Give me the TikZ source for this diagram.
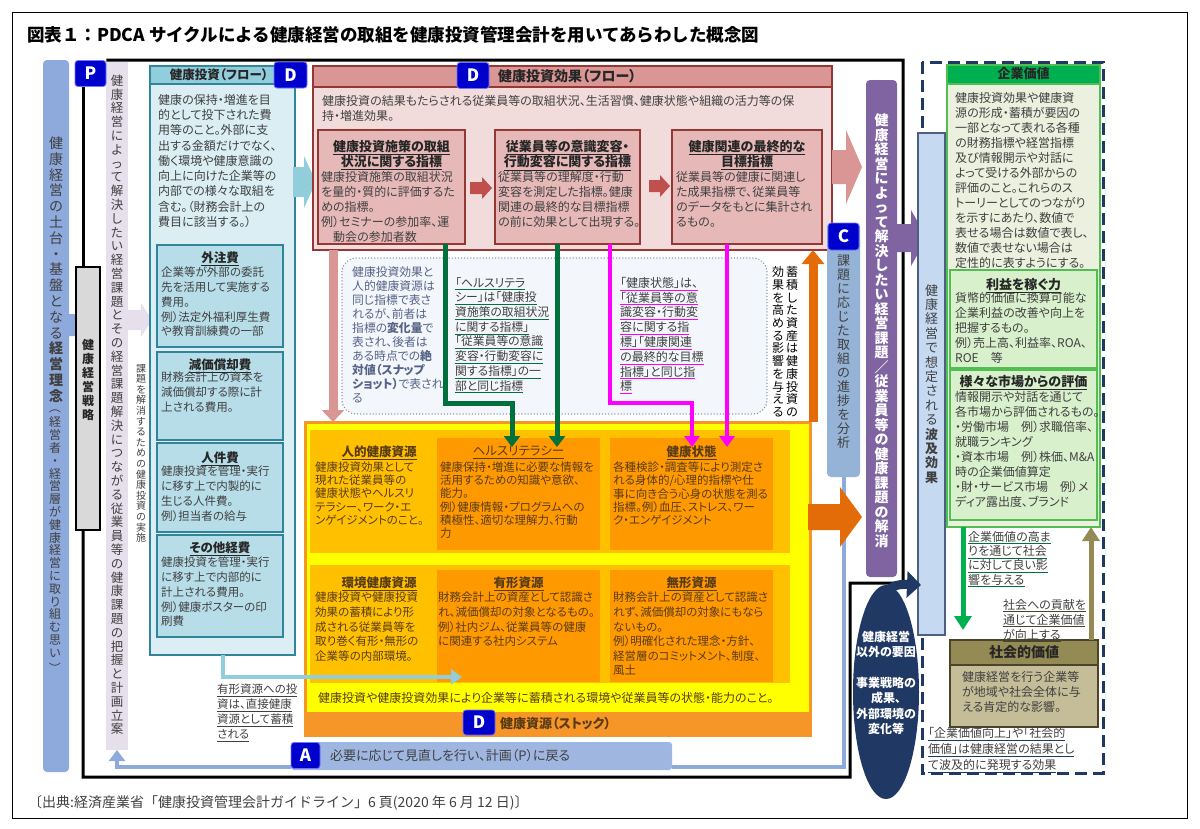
\documentclass[tikz,border=0pt]{standalone}
\usepackage{fontspec}
\setmainfont{Noto Sans CJK JP}[RawFeature={+palt}]
\newfontfamily\jpfixed{Noto Sans CJK JP}
\usepackage{graphicx}
\usepackage{tikz}
\usetikzlibrary{arrows.meta,positioning,shapes.geometric}

\definecolor{basebar}{RGB}{142,169,219}
\definecolor{lavcol}{RGB}{229,224,236}
\definecolor{badgeblue}{RGB}{0,0,204}
\definecolor{invhead}{RGB}{146,205,220}
\definecolor{invbody}{RGB}{218,238,243}
\definecolor{invsub}{RGB}{183,221,232}
\definecolor{invline}{RGB}{49,133,155}
\definecolor{effhead}{RGB}{217,150,148}
\definecolor{effbody}{RGB}{242,220,219}
\definecolor{effsub}{RGB}{230,185,184}
\definecolor{effline}{RGB}{149,55,53}
\definecolor{effarrow}{RGB}{192,80,77}
\definecolor{purplecol}{RGB}{128,100,162}
\definecolor{rippleblue}{RGB}{197,217,241}
\definecolor{navy}{RGB}{31,56,100}
\definecolor{cvhead}{RGB}{0,176,80}
\definecolor{cvbody}{RGB}{235,241,222}
\definecolor{cvsub}{RGB}{216,240,204}
\definecolor{cvline}{RGB}{80,190,80}
\definecolor{svhead}{RGB}{148,138,84}
\definecolor{svbody}{RGB}{196,189,151}
\definecolor{svline}{RGB}{74,69,42}
\definecolor{ccol}{RGB}{149,179,215}
\definecolor{stockyellow}{RGB}{255,255,0}
\definecolor{stockamber}{RGB}{255,192,0}
\definecolor{stockbox}{RGB}{255,153,0}
\definecolor{stockline}{RGB}{247,150,40}
\definecolor{orangearr}{RGB}{227,108,9}
\definecolor{ldgreen}{RGB}{0,112,60}
\definecolor{lmagenta}{RGB}{255,0,255}
\definecolor{dotfill}{RGB}{243,246,251}
\definecolor{dotline}{RGB}{120,140,175}
\definecolor{slate}{RGB}{85,100,135}
\definecolor{txtgray}{RGB}{64,64,64}
\definecolor{stocktxt}{RGB}{90,60,20}
\definecolor{cyclelb}{RGB}{142,169,219}

\newcommand\vrot[1]{\rotatebox[origin=c]{-90}{#1}}
\let\vtStop\relax
\def\vtStopm{\vtStop}
\def\vtloop#1{\def\vtmp{#1}\ifx\vtmp\vtStopm\else\hbox to 1em{\hss\vrule height .88em depth .12em width 0pt\relax#1\hss}\expandafter\vtloop\fi}
\newcommand\vchars[1]{\vtloop#1\vtStop}
\newcommand\vbx[1]{\vbox{\lineskiplimit=-100pt\relax#1}}
\newcommand\uln[1]{\underline{#1}}
\newcommand\cul[2]{{\color{#1}\underline{\textcolor{txtgray}{#2}}}}
\newcommand\boxnode[6]{\node[#2, anchor=north west, inner sep=0pt, outer sep=0pt, minimum width={(#5)-(#3)}, minimum height={(#6)-(#4)}] (#1) at (#3,#4) {};}
\newcommand\rblock[7]{\fill[#1] (#2,#4-#5) -- (#3-#7,#4-#5) -- (#3-#7,#4-#6) -- (#3,#4) -- (#3-#7,#4+#6) -- (#3-#7,#4+#5) -- (#2,#4+#5) -- cycle;}

\tikzset{
  txt/.style={anchor=north west, inner sep=0pt, align=left, text=txtgray, font=\fontsize{12}{15}\selectfont},
  ttl/.style={anchor=north, inner sep=0pt, align=center, text=black!85, font=\bfseries\fontsize{13}{15}\selectfont},
  badge/.style={fill=badgeblue, draw=blue!55, line width=0.8pt, rounded corners=3pt, text=white, font=\bfseries\fontsize{17}{17}\selectfont, minimum width=31pt, minimum height=26pt, inner sep=0pt},
  vtx/.style={anchor=north, inner sep=0pt, text=txtgray},
  frameline/.style={line width=3pt, black},
  subinv/.style={fill=invsub, draw=invline, line width=1.2pt},
  subeff/.style={fill=effsub, draw=effline, line width=1.2pt},
  subcv/.style={fill=cvsub, draw=cvline, line width=1.2pt},
  gline/.style={line width=5pt, ldgreen, -{Triangle[width=16pt,length=11pt]}},
  mline/.style={line width=4pt, lmagenta, -{Triangle[width=15pt,length=11pt]}},
  cycleline/.style={line width=4pt, cyclelb},
}

\begin{document}
\begin{tikzpicture}[x=1pt,y=-1pt]
\useasboundingbox (0,0) rectangle (1200,828);
\draw[line width=1pt] (12,12) rectangle (1187,818);
\node[anchor=west, inner sep=0pt, text=black, font=\jpfixed\bfseries\fontsize{17.5}{18}\selectfont] (title) at (27,35) {図表１：PDCA サイクルによる健康経営の取組を健康投資管理会計を用いてあらわした概念図};

% left columns
\boxnode{basebar}{fill=basebar, rounded corners=4pt}{43}{60}{69}{772}
\node[vtx] (basetxt) at (56,136) {\vbx{\fontsize{14}{15.8}\selectfont\vchars{健康経営の土台・基盤となる}\bfseries\vchars{経営理念}\mdseries\fontsize{12}{12.8}\selectfont\vchars{{\vrot{（}}経営者・経営層が健康経営に取り組む思い{\vrot{）}}}}};
\rblock{fill=basebar}{68}{96}{325}{11}{20}{12}
\boxnode{lavcol}{fill=lavcol}{106}{62}{128}{750}
\node[vtx] (lavtxt) at (117,74) {\vbx{\fontsize{12.5}{13.8}\selectfont\vchars{健康経営によって解決したい経営課題とその経営課題解決につながる従業員等の健康課題の把握と計画立案}}};
\rblock{fill=lavcol}{128}{152}{320}{10}{17}{11}
\node[vtx] (solvetxt) at (141,363) {\vbx{\fontsize{10}{10.6}\selectfont\vchars{課題を解消するための健康投資の実施}}};

\node[badge] (P) at (90.5,73.5) {P};
\boxnode{strategy}{fill=black!15, draw=black, line width=1.5pt}{76}{267}{100}{530}
\node[vtx, text=black!85] (strategytxt) at (88,339) {\vbx{\fontsize{12}{14}\selectfont\bfseries\vchars{健康経営戦略}}};
\draw[frameline] ([xshift=-7.5pt]P.south) -- ([xshift=-5pt]strategy.north);
\draw[frameline] (P.north east) -- (903,60) -- (903,583) -- (850,583) -- (850,777) -- (83,777) -- ([xshift=-5pt]strategy.south);

% health investment (flow)
\boxnode{inv}{fill=invbody, draw=invline, line width=1.2pt}{150}{66}{295}{655}
\boxnode{invhd}{fill=invhead, draw=invline, line width=1.2pt}{150}{66}{295}{84}
\node[ttl, font=\bfseries\fontsize{12.5}{15}\selectfont] (invttl) at (219,69) {健康投資（フロー）};
\node[badge, minimum width=33pt] (Dinv) at (290.5,75) {D};
\node[txt, font=\fontsize{12}{15.25}\selectfont] (invtxt) at (158,94) {健康の保持・増進を目\\的として投下された費\\用等のこと。外部に支\\出する金額だけでなく、\\働く環境や健康意識の\\向上に向けた企業等の\\内部での様々な取組を\\含む。（財務会計上の\\費目に該当する。）};
\boxnode{outsrc}{subinv}{157}{245}{283}{347}
\boxnode{deprec}{subinv}{157}{352}{283}{440}
\boxnode{labor}{subinv}{157}{443}{283}{532}
\boxnode{othercost}{subinv}{157}{535}{283}{637}
\node[ttl, font=\bfseries\fontsize{12.5}{15}\selectfont] at (220,252) {\uln{外注費}};
\node[txt, font=\fontsize{11.5}{14.7}\selectfont] at (161,267) {企業等が外部の委託\\先を活用して実施する\\費用。\\例）法定外福利厚生費\\や教育訓練費の一部};
\node[ttl, font=\bfseries\fontsize{12.5}{15}\selectfont] at (220,359) {\uln{減価償却費}};
\node[txt, font=\fontsize{11.5}{14.7}\selectfont] at (161,372) {財務会計上の資本を\\減価償却する際に計\\上される費用。};
\node[ttl, font=\bfseries\fontsize{12.5}{15}\selectfont] at (220,452) {\uln{人件費}};
\node[txt, font=\fontsize{11.5}{14.7}\selectfont] at (161,466) {健康投資を管理・実行\\に移す上で内製的に\\生じる人件費。\\例）担当者の給与};
\node[ttl, font=\bfseries\fontsize{12.5}{15}\selectfont] at (220,542) {\uln{その他経費}};
\node[txt, font=\fontsize{11.5}{14.7}\selectfont] at (161,557) {健康投資を管理・実行\\に移す上で内部的に\\計上される費用。\\例）健康ポスターの印\\刷費};
\rblock{fill=invhead}{293}{316}{182}{15}{26}{12}

% health investment effect (flow)
\boxnode{eff}{fill=effbody, draw=effline, line width=1.2pt}{313}{66}{832}{250}
\boxnode{effhd}{fill=effhead, draw=effline, line width=1.2pt}{313}{66}{832}{87}
\node[badge, minimum width=32pt] (Deff) at (473,75.5) {D};
\node[anchor=north west, inner sep=0pt, text=black!85, font=\bfseries\fontsize{14}{15}\selectfont] (effttl) at (498,69) {健康投資効果（フロー）};
\node[txt] (efftxt) at (322,95) {健康投資の結果もたらされる従業員等の取組状況、生活習慣、健康状態や組織の活力等の保\\持・増進効果。};
\boxnode{ind1}{subeff}{318}{130}{465}{244}
\boxnode{ind2}{subeff}{495}{130}{640}{244}
\boxnode{ind3}{subeff}{672}{130}{822}{244}
\node[ttl] at (391.5,140.5) {\uln{健康投資施策の取組}\\\uln{状況に関する指標}};
\node[txt] at (321,171) {健康投資施策の取組状況\\を量的・質的に評価するた\\めの指標。\\例）セミナーの参加率、運\\　動会の参加者数};
\node[ttl] at (567.5,140.5) {\uln{従業員等の意識変容・}\\\uln{行動変容に関する指標}};
\node[txt] at (498,171) {従業員等の理解度・行動\\変容を測定した指標。健康\\関連の最終的な目標指標\\の前に効果として出現する。};
\node[ttl] at (747,140.5) {\uln{健康関連の最終的な}\\\uln{目標指標}};
\node[txt] at (676,171) {従業員等の健康に関連し\\た成果指標で、従業員等\\のデータをもとに集計され\\るもの。};
\rblock{fill=effarrow}{470}{492}{188}{6}{11}{10}
\rblock{fill=effarrow}{649}{670}{186}{6}{11}{10}
\rblock{fill=effhead}{832}{862}{167}{17}{37}{16}

% note box between flows and stock
\boxnode{note}{fill=dotfill, draw=dotline, line width=1.4pt, line cap=round, dash pattern=on 0.1pt off 3pt, rounded corners=14pt}{342}{258}{767}{414}
\node[txt, text=slate, font=\fontsize{11.8}{14}\selectfont] (notetxt) at (352,266) {健康投資効果と\\人的健康資源は\\同じ指標で表さ\\れるが、前者は\\指標の\textbf{変化量}で\\表され、後者は\\ある時点での\textbf{絶}\\\textbf{対値（スナップ}\\\textbf{ショット）}で表され\\る};
\node[txt, font=\fontsize{11.8}{14.7}\selectfont] (hlnote) at (455,277) {\cul{ldgreen}{「ヘルスリテラ}\\\cul{ldgreen}{シー」は「健康投}\\\cul{ldgreen}{資施策の取組状況}\\\cul{ldgreen}{に関する指標」}\\\cul{ldgreen}{「従業員等の意識}\\\cul{ldgreen}{変容・行動変容に}\\\cul{ldgreen}{関する指標」の一}\\\cul{ldgreen}{部と同じ指標}};
\node[txt, font=\fontsize{12}{14.8}\selectfont] (hsnote) at (620,277) {\cul{lmagenta}{「健康状態」は、}\\\cul{lmagenta}{「従業員等の意}\\\cul{lmagenta}{識変容・行動変}\\\cul{lmagenta}{容に関する指}\\\cul{lmagenta}{標」「健康関連}\\\cul{lmagenta}{の最終的な目標}\\\cul{lmagenta}{指標」と同じ指}\\\cul{lmagenta}{標}};
\node[vtx, text=black] (accR) at (792,266) {\vbx{\fontsize{12}{12.7}\selectfont\vchars{蓄積した資産は健康投資の}}};
\node[vtx, text=black] (accL) at (778,266) {\vbx{\fontsize{12}{12.7}\selectfont\vchars{効果を高める影響を与える}}};

% health resources (stock)
\boxnode{stock}{fill=stockyellow, draw=stockline, line width=3pt}{305}{422}{810}{735}
\boxnode{stockband}{fill=stockline}{305}{712}{810}{735}
\boxnode{humanres}{fill=stockamber}{310}{430}{790}{553}
\boxnode{envres}{fill=stockamber}{310}{565}{790}{683}
\boxnode{hl}{fill=stockbox}{437}{438}{600}{550}
\boxnode{hs}{fill=stockbox}{610}{438}{773}{550}
\boxnode{tg}{fill=stockbox}{437}{570}{600}{682}
\boxnode{itg}{fill=stockbox}{610}{570}{773}{682}
\node[ttl, text=stocktxt, font=\bfseries\fontsize{12.5}{14}\selectfont] at (379,446) {\uln{人的健康資源}};
\node[txt, text=stocktxt, font=\fontsize{11.5}{13.3}\selectfont] at (315,461.5) {健康投資効果として\\現れた従業員等の\\健康状態やヘルスリ\\テラシー、ワーク・エ\\ンゲイジメントのこと。};
\node[ttl, text=stocktxt, font=\fontsize{12.5}{14}\selectfont] at (518.5,446) {\uln{ヘルスリテラシー}};
\node[txt, text=stocktxt, font=\fontsize{11.5}{13.3}\selectfont] at (440,461.5) {健康保持・増進に必要な情報を\\活用するための知識や意欲、\\能力。\\例）健康情報・プログラムへの\\積極性、適切な理解力、行動\\力};
\node[ttl, text=stocktxt, font=\bfseries\fontsize{12.5}{14}\selectfont] at (691.5,446) {\uln{健康状態}};
\node[txt, text=stocktxt, font=\fontsize{11.5}{13.3}\selectfont] at (613,461.5) {各種検診・調査等により測定さ\\れる身体的/心理的指標や仕\\事に向き合う心身の状態を測る\\指標。例）血圧、ストレス、ワー\\ク・エンゲイジメント};
\node[ttl, text=stocktxt, font=\bfseries\fontsize{12.5}{14}\selectfont] at (379,577) {\uln{環境健康資源}};
\node[txt, text=stocktxt, font=\fontsize{11.5}{14.6}\selectfont] at (315,592) {健康投資や健康投資\\効果の蓄積により形\\成される従業員等を\\取り巻く有形・無形の\\企業等の内部環境。};
\node[ttl, text=stocktxt, font=\bfseries\fontsize{12.5}{14}\selectfont] at (518.5,577) {\uln{有形資源}};
\node[txt, text=stocktxt, font=\fontsize{11.5}{14.6}\selectfont] at (438,592) {財務会計上の資産として認識さ\\れ、減価償却の対象となるもの。\\例）社内ジム、従業員等の健康\\に関連する社内システム};
\node[ttl, text=stocktxt, font=\bfseries\fontsize{12.5}{14}\selectfont] at (691.5,577) {\uln{無形資源}};
\node[txt, text=stocktxt, font=\fontsize{11.5}{14.6}\selectfont] at (613,592) {財務会計上の資産として認識さ\\れず、減価償却の対象にもなら\\ないもの。\\例）明確化された理念・方針、\\経営層のコミットメント、制度、\\風土};
\node[txt, text=stocktxt] (stocktxt) at (318,692) {健康投資や健康投資効果により企業等に蓄積される環境や従業員等の状態・能力のこと。};
\node[badge, minimum width=32pt, minimum height=25pt] (Dstock) at (479,722.5) {D};
\node[anchor=west, inner sep=0pt, text=stocktxt, font=\bfseries\fontsize{13}{14}\selectfont] (stockttl) at (500,723.5) {健康資源（ストック）};

% connectors
\draw[gline] ([xshift=53.5pt]ind1.south) -- ++(0,159) -| ([xshift=-6.5pt,yshift=-9pt]hl.north);
\draw[gline] ([xshift=-10.5pt]ind2.south) -- ([xshift=38.5pt,yshift=-9pt]hl.north);
\draw[mline] ([xshift=42.5pt]ind2.south) -- ++(0,159) -| ([xshift=0.5pt,yshift=-9pt]hs.north);
\draw[mline] ([xshift=-20pt]ind3.south) -- ([xshift=35.5pt,yshift=-9pt]hs.north);
\draw[line width=9pt, effhead, -{Triangle[width=22pt,length=12pt]}] ([xshift=-239.5pt]eff.south) -- ([xshift=-224.5pt]stock.north);
\draw[line width=9pt, orangearr, -{Triangle[width=22pt,length=14pt]}] ([xshift=3pt]stock.north east) -- ([xshift=240.5pt]eff.south);
\coordinate (tgt) at (462,677);
\draw[line width=4pt, invhead, -{Triangle[width=15pt,length=11pt]}] (inv.south) |- (tgt);
\node[txt, font=\fontsize{11.5}{15}\selectfont] (tgtnote) at (217,684) {\uln{有形資源への投}\\\uln{資は、直接健康}\\\uln{資源として蓄積}\\\uln{される}};

% check and act
\boxnode{cprog}{fill=ccol, rounded corners=4pt}{827}{223}{860}{477}
\boxnode{actbar}{fill=cyclelb!85!white, rounded corners=3pt}{291}{742}{672}{770}
\draw[cycleline] (cprog.south) |- ([yshift=-11pt]actbar.east);
\draw[cycleline, -{Triangle[width=16pt,length=11pt]}] ([yshift=-11pt]actbar.west) -| (lavcol.south);
\node[badge, minimum width=29pt] (Abadge) at (305.5,755.5) {A};
\node[anchor=west, inner sep=0pt, text=txtgray, font=\fontsize{13}{14}\selectfont] (acttxt) at (330,756) {必要に応じて見直しを行い、計画（P）に戻る};
\node[badge, minimum width=31pt, minimum height=27pt] (Cbadge) at (843.5,236.5) {C};
\node[vtx] (ctxt) at (843.5,253.5) {\vbx{\fontsize{13}{14}\selectfont\vchars{課題に応じた取組の進捗を分析}}};
\rblock{fill=orangearr}{808}{862}{517}{13}{30}{22}

% solved issues and ripple effects
\boxnode{solve}{fill=purplecol, rounded corners=4pt}{866}{80}{897}{577}
\node[vtx, text=white] (solvetxt2) at (881.5,113) {\vbx{\fontsize{14}{14.5}\selectfont\bfseries\vchars{健康経営によって解決したい経営課題／従業員等の健康課題の解消}}};
\rblock{fill=purplecol}{896}{927}{238}{14}{28}{16}
\draw[navy, line width=3pt, dash pattern=on 12pt off 6pt] (922,62) rectangle (1103,773);
\boxnode{ripple}{fill=rippleblue, draw=navy!80, line width=1.5pt}{918}{133}{945}{635}
\node[vtx] (rippletxt) at (931.5,283.5) {\vbx{\fontsize{13}{14.4}\selectfont\vchars{健康経営で想定される}\bfseries\vchars{波及効果}}};

% corporate value
\boxnode{corpval}{fill=cvbody, draw=cvline, line width=1.5pt}{947}{65}{1100}{527}
\boxnode{cvhd}{fill=cvhead, draw=cvline, line width=1.5pt}{947}{65}{1100}{84}
\node[ttl] (cvttl) at (1023.5,67.5) {企業価値};
\node[txt] (cvtxt) at (955,92) {健康投資効果や健康資\\源の形成・蓄積が要因の\\一部となって表れる各種\\の財務指標や経営指標\\及び情報開示や対話に\\よって受ける外部からの\\評価のこと。これらのス\\トーリーとしてのつながり\\を示すにあたり、数値で\\表せる場合は数値で表し、\\数値で表せない場合は\\定性的に表すようにする。};
\boxnode{profit}{subcv}{950}{270}{1097}{368}
\boxnode{market}{subcv}{950}{370}{1097}{520}
\node[ttl] at (1023.5,278.5) {\uln{利益を稼ぐ力}};
\node[txt] at (955,292) {貨幣的価値に換算可能な\\企業利益の改善や向上を\\把握するもの。\\例）売上高、利益率、ROA、\\ROE　等};
\node[ttl] at (1023.5,375.5) {\uln{様々な市場からの評価}};
\node[txt] at (955,391) {情報開示や対話を通じて\\各市場から評価されるもの。\\・労働市場　例）求職倍率、\\就職ランキング\\・資本市場　例）株価、M\&A\\時の企業価値算定\\・財・サービス市場　例）メ\\ディア露出度、ブランド};

% social value
\boxnode{socval}{fill=svbody, draw=svline, line width=1.5pt}{950}{640}{1098}{727}
\boxnode{svhd}{fill=svhead, draw=svline, line width=1.5pt}{950}{640}{1098}{665}
\node[ttl, font=\bfseries\fontsize{14}{15}\selectfont] (svttl) at (1024,645) {社会的価値};
\node[txt] (svtxt) at (962,671) {健康経営を行う企業等\\が地域や社会全体に与\\える肯定的な影響。};
\draw[line width=5pt, cvhead, -{Triangle[width=17pt,length=14pt]}] ([xshift=-60.5pt]corpval.south) -- ([xshift=-61pt,yshift=10pt]socval.north);
\draw[line width=5pt, svhead, -{Triangle[width=17pt,length=14pt]}] ([xshift=67pt]socval.north) -- ([xshift=67.5pt]corpval.south);
\node[txt, font=\fontsize{12}{14.3}\selectfont] (cvup) at (968,531) {\cul{ldgreen}{企業価値の高ま}\\\cul{ldgreen}{りを通じて社会}\\\cul{ldgreen}{に対して良い影}\\\cul{ldgreen}{響を与える}};
\node[txt] (svup) at (1003,599) {\cul{svline}{社会への貢献を}\\\cul{svline}{通じて企業価値}\\\cul{svline}{が向上する}};
\node[txt, font=\fontsize{12}{16}\selectfont] (resultnote) at (928,727) {\cul{navy}{「企業価値向上」や「社会的}\\\cul{navy}{価値」は健康経営の結果とし}\\\cul{navy}{て波及的に発現する効果}};

% external factors
\node[ellipse, fill=navy, minimum width=66pt, minimum height=214pt, inner sep=0pt] (ext) at (886,692) {};
\draw[navy, line width=9pt, -{Triangle[width=26pt,length=14pt]}] ([yshift=-15pt]ext.north) .. controls (886,586) and (897,584) .. ([xshift=3pt,yshift=50pt]ripple.south west);
\node[anchor=north, inner sep=0pt, align=center, text=white, font=\bfseries\fontsize{12}{15.3}\selectfont] (exttxt1) at (886,631) {健康経営\\以外の要因};
\node[anchor=north, inner sep=0pt, align=center, text=white, font=\bfseries\fontsize{12}{15.3}\selectfont] (exttxt2) at (886,677) {事業戦略の\\成果、\\外部環境の\\変化等};

\node[anchor=west, inner sep=0pt, text=txtgray, font=\jpfixed\fontsize{14}{14}\selectfont] (src) at (28,803) {〔出典:経済産業省「健康投資管理会計ガイドライン」6 頁(2020 年 6 月 12 日)〕};
\end{tikzpicture}
\end{document}
